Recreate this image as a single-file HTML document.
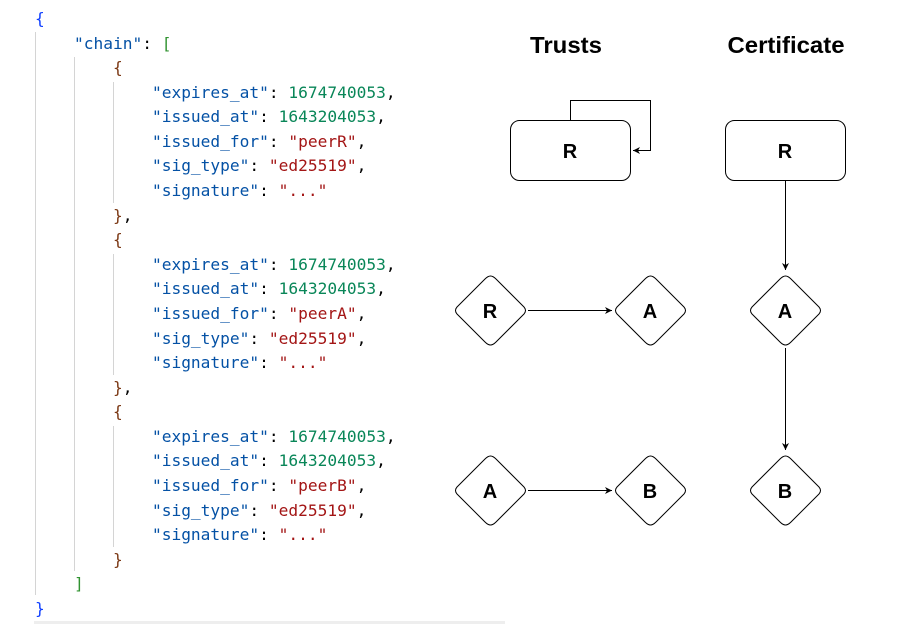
<!DOCTYPE html>
<html><head><meta charset="utf-8"><style>
body{margin:0;width:901px;height:624px;background:#fff;position:relative;overflow:hidden}
.code{position:absolute;left:35px;top:7px;font-family:"DejaVu Sans Mono","Liberation Mono",monospace;font-size:16.2px;line-height:24.58px;white-space:pre;color:#000}
.b{color:#0f3fff}.k{color:#0451a5}.n{color:#098658}.s{color:#a31515}.g{color:#319331}.o{color:#7b3814}
.vl{position:absolute;width:1px;background:#d4d4d4}
</style></head><body>
<div class="vl" style="left:35px;top:32px;height:563px"></div>
<div class="vl" style="left:74px;top:57px;height:514px"></div>
<div class="vl" style="left:113px;top:82px;height:121px"></div>
<div class="vl" style="left:113px;top:254px;height:121px"></div>
<div class="vl" style="left:113px;top:426px;height:121px"></div>
<div style="position:absolute;left:34px;top:621px;width:471px;height:3px;background:#eee"></div>
<div class="code"><span class="b">{</span>
    <span class="k">"chain"</span>: <span class="g">[</span>
        <span class="o">{</span>
            <span class="k">"expires_at"</span>: <span class="n">1674740053</span>,
            <span class="k">"issued_at"</span>: <span class="n">1643204053</span>,
            <span class="k">"issued_for"</span>: <span class="s">"peerR"</span>,
            <span class="k">"sig_type"</span>: <span class="s">"ed25519"</span>,
            <span class="k">"signature"</span>: <span class="s">"..."</span>
        <span class="o">}</span>,
        <span class="o">{</span>
            <span class="k">"expires_at"</span>: <span class="n">1674740053</span>,
            <span class="k">"issued_at"</span>: <span class="n">1643204053</span>,
            <span class="k">"issued_for"</span>: <span class="s">"peerA"</span>,
            <span class="k">"sig_type"</span>: <span class="s">"ed25519"</span>,
            <span class="k">"signature"</span>: <span class="s">"..."</span>
        <span class="o">}</span>,
        <span class="o">{</span>
            <span class="k">"expires_at"</span>: <span class="n">1674740053</span>,
            <span class="k">"issued_at"</span>: <span class="n">1643204053</span>,
            <span class="k">"issued_for"</span>: <span class="s">"peerB"</span>,
            <span class="k">"sig_type"</span>: <span class="s">"ed25519"</span>,
            <span class="k">"signature"</span>: <span class="s">"..."</span>
        <span class="o">}</span>
    <span class="g">]</span>
<span class="b">}</span></div>
<svg style="position:absolute;left:0;top:0" width="901" height="624" font-family="Liberation Sans, Arial, sans-serif" font-weight="bold">
<defs><marker id="a" markerWidth="8" markerHeight="8" refX="7" refY="4" orient="auto" markerUnits="userSpaceOnUse"><path d="M0,0.5 L7,4 L0,7.5 L2,4 z" fill="#000"/></marker></defs>
<text x="566" y="53" font-size="23" text-anchor="middle" textLength="72" lengthAdjust="spacingAndGlyphs">Trusts</text>
<text x="786" y="53" font-size="23" text-anchor="middle" textLength="117" lengthAdjust="spacingAndGlyphs">Certificate</text>
<g fill="#fff" stroke="#000" stroke-width="1">
<rect x="510.5" y="120.5" width="120" height="60" rx="9"/>
<rect x="725.5" y="120.5" width="120" height="60" rx="9"/>
</g>
<g fill="none" stroke="#000" stroke-width="1">
<path d="M570.5,120 V100.5 H650.5 V150.5 H633" marker-end="url(#a)"/>
<path d="M785.5,181 V270" marker-end="url(#a)"/>
<path d="M785.5,348 V450" marker-end="url(#a)"/>
<path d="M528,310.5 H612" marker-end="url(#a)"/>
<path d="M528,490.5 H612" marker-end="url(#a)"/>
</g>
<g fill="#fff" stroke="#000" stroke-width="1" stroke-linejoin="round">
<path d="M490.5,273 Q493,273 496,276 L524,304 Q527,307.5 524,311 L496,339 Q493,342 490.5,342 Q488,342 485,339 L457,311 Q454,307.5 457,304 L485,276 Q488,273 490.5,273z" transform="translate(0,3)"/>
<path d="M490.5,273 Q493,273 496,276 L524,304 Q527,307.5 524,311 L496,339 Q493,342 490.5,342 Q488,342 485,339 L457,311 Q454,307.5 457,304 L485,276 Q488,273 490.5,273z" transform="translate(160,3)"/>
<path d="M490.5,273 Q493,273 496,276 L524,304 Q527,307.5 524,311 L496,339 Q493,342 490.5,342 Q488,342 485,339 L457,311 Q454,307.5 457,304 L485,276 Q488,273 490.5,273z" transform="translate(295,3)"/>
<path d="M490.5,273 Q493,273 496,276 L524,304 Q527,307.5 524,311 L496,339 Q493,342 490.5,342 Q488,342 485,339 L457,311 Q454,307.5 457,304 L485,276 Q488,273 490.5,273z" transform="translate(0,183)"/>
<path d="M490.5,273 Q493,273 496,276 L524,304 Q527,307.5 524,311 L496,339 Q493,342 490.5,342 Q488,342 485,339 L457,311 Q454,307.5 457,304 L485,276 Q488,273 490.5,273z" transform="translate(160,183)"/>
<path d="M490.5,273 Q493,273 496,276 L524,304 Q527,307.5 524,311 L496,339 Q493,342 490.5,342 Q488,342 485,339 L457,311 Q454,307.5 457,304 L485,276 Q488,273 490.5,273z" transform="translate(295,183)"/>
</g>
<g font-size="20" text-anchor="middle">
<text x="570" y="158">R</text><text x="785" y="158">R</text>
<text x="490" y="318">R</text><text x="650" y="318">A</text><text x="785" y="318">A</text>
<text x="490" y="498">A</text><text x="650" y="498">B</text><text x="785" y="498">B</text>
</g>
</svg>
</body></html>
